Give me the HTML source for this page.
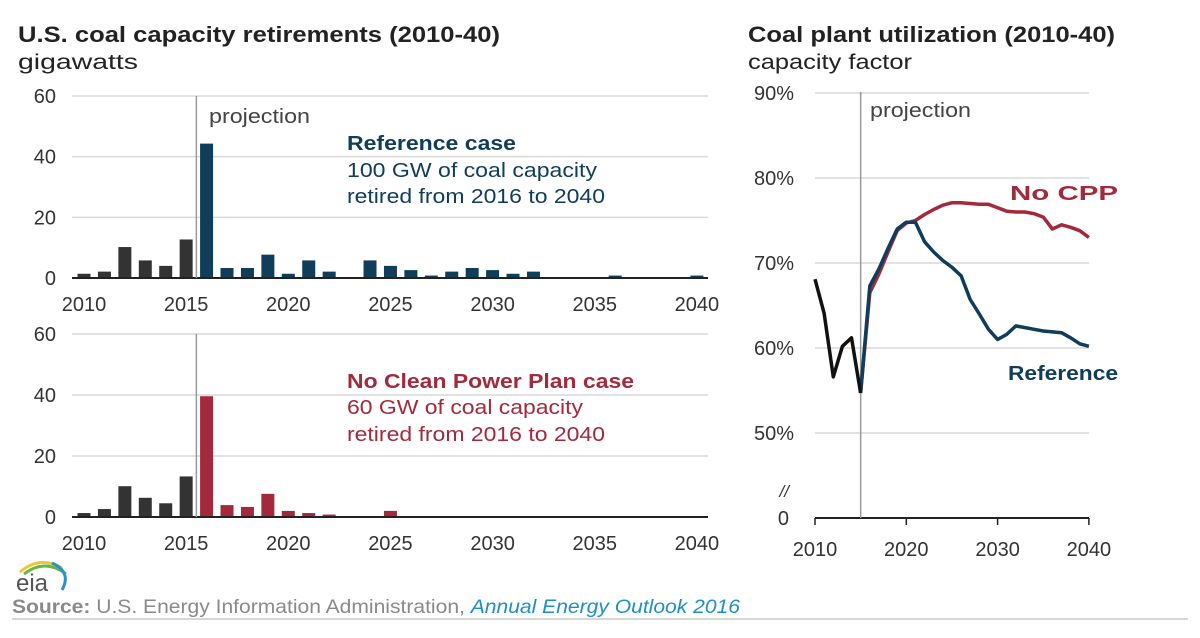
<!DOCTYPE html>
<html><head><meta charset="utf-8"><style>
body{margin:0;background:#fff;width:1200px;height:633px;overflow:hidden;font-family:"Liberation Sans",sans-serif}
svg text{font-family:"Liberation Sans",sans-serif}
</style></head><body>
<svg id="c" width="1200" height="633" xmlns="http://www.w3.org/2000/svg">
<text x="18" y="42" font-size="22" font-weight="bold" fill="#222" textLength="482" lengthAdjust="spacingAndGlyphs">U.S. coal capacity retirements (2010-40)</text>
<text x="18" y="69" font-size="21" fill="#222" textLength="120" lengthAdjust="spacingAndGlyphs">gigawatts</text>
<text x="748" y="42" font-size="22" font-weight="bold" fill="#222" textLength="367" lengthAdjust="spacingAndGlyphs">Coal plant utilization (2010-40)</text>
<text x="748" y="69" font-size="21" fill="#222" textLength="164" lengthAdjust="spacingAndGlyphs">capacity factor</text>
<g id="top"></g>
<g id="bot"></g>
<g id="line"></g>
<text x="209" y="123" font-size="20" fill="#444" textLength="101" lengthAdjust="spacingAndGlyphs">projection</text>
<text x="347" y="150" font-size="20" font-weight="bold" fill="#0f3d5a" textLength="169" lengthAdjust="spacingAndGlyphs">Reference case</text>
<text x="347" y="177" font-size="20" fill="#0f3d5a" textLength="250" lengthAdjust="spacingAndGlyphs">100 GW of coal capacity</text>
<text x="347" y="203" font-size="20" fill="#0f3d5a" textLength="258" lengthAdjust="spacingAndGlyphs">retired from 2016 to 2040</text>
<text x="347" y="388" font-size="20" font-weight="bold" fill="#a32a3c" textLength="287" lengthAdjust="spacingAndGlyphs">No Clean Power Plan case</text>
<text x="347" y="414" font-size="20" fill="#a32a3c" textLength="236" lengthAdjust="spacingAndGlyphs">60 GW of coal capacity</text>
<text x="347" y="441" font-size="20" fill="#a32a3c" textLength="258" lengthAdjust="spacingAndGlyphs">retired from 2016 to 2040</text>
<text x="870" y="117" font-size="20" fill="#444" textLength="101" lengthAdjust="spacingAndGlyphs">projection</text>
<text x="1010" y="200" font-size="20" font-weight="bold" fill="#a32a3c" textLength="108" lengthAdjust="spacingAndGlyphs">No CPP</text>
<text x="1008" y="380" font-size="20" font-weight="bold" fill="#0f3d5a" textLength="110" lengthAdjust="spacingAndGlyphs">Reference</text>
<g>
<path d="M20 572 Q40 555 62 568" stroke="#e8c93a" stroke-width="3" fill="none"/>
<path d="M24 574 Q45 558 66 574" stroke="#6bb544" stroke-width="3" fill="none"/>
<path d="M52 563 Q72 572 62 590" stroke="#2a8fd0" stroke-width="3" fill="none"/>
<text x="16" y="591" font-family="Liberation Serif,serif" font-size="24" fill="#555">eia</text>
</g>
<text x="12" y="613" font-size="19" fill="#8a8a8a" textLength="728" lengthAdjust="spacingAndGlyphs"><tspan font-weight="bold">Source:</tspan> U.S. Energy Information Administration, <tspan font-style="italic" fill="#1e8fc6">Annual Energy Outlook 2016</tspan></text>
<line x1="12" y1="619" x2="1188" y2="619" stroke="#ccc" stroke-width="1.5"/>
</svg>
<script>
const years = [];
for (let y = 2010; y <= 2040; y++) years.push(y);
const refRetire = [1.4,2.1,10.2,5.8,4,12.7,44.3,3.3,3.3,7.7,1.4,5.8,2.1,0,5.8,4,2.6,0.8,2.1,3.3,2.6,1.4,2.1,0,0,0,0.8,0,0,0,0.8];
const noCppRetire = [1.3,2.6,10.1,6.3,4.5,13.3,39.6,3.9,3.3,7.6,2,1.3,0.8,0,0,2,0,0,0,0,0,0,0,0,0,0,0,0,0,0,0];
const barTicks = [0,20,40,60];
const xTickYears = [2010,2015,2020,2025,2030,2035,2040];
const histYears = [2010,2011,2012,2013,2014,2015];
const histCF = [68.1,64.1,56.6,60.2,61.2,54.7];
const projYears = [2015,2016,2017,2018,2019,2020,2021,2022,2023,2024,2025,2026,2027,2028,2029,2030,2031,2032,2033,2034,2035,2036,2037,2038,2039,2040];
const refCF = [54.7,67.3,69.3,71.7,74,74.8,74.8,72.5,71.3,70.3,69.5,68.5,65.7,64,62.2,61,61.6,62.6,62.4,62.2,62,61.9,61.8,61.2,60.5,60.2];
const noCppCF = [54.7,66.5,68.7,71.3,73.8,74.7,75,75.7,76.3,76.8,77.1,77.1,77,76.9,76.9,76.5,76.1,76,76,75.8,75.4,74,74.5,74.2,73.8,73];
const cfTicks = [50,60,70,80,90];
const lineXTicks = [2010,2020,2030,2040];

const NS = "http://www.w3.org/2000/svg";
function mk(tag, attrs, parent){const e=document.createElementNS(NS,tag);for(const k in attrs)e.setAttribute(k,attrs[k]);parent.appendChild(e);return e;}

function barChart(g, vals, base, top60, colorProj, projTop){
  const xS = yr => 84 + (yr-2010)*20.43;
  const yS = v => base - v*(base-top60)/60;
  barTicks.forEach(t=>{
    if(t>0){const l=mk('line',{x1:72,x2:708,y1:yS(t),y2:yS(t),stroke:'#d9d9d9','stroke-width':1.5},g);
    
    }
    const tx=mk('text',{x:56,y:yS(t)+7,'font-size':20,fill:'#333','text-anchor':'end'},g);tx.textContent=t;
    
    
  });
  years.forEach((yr,i)=>{
    const v=vals[i]; if(v<=0) return;
    const r=mk('rect',{x:xS(yr)-6.5,y:yS(v),width:13,height:base-yS(v),fill:yr<=2015?'#333333':colorProj},g);
    
    
  });
  const ax=mk('line',{x1:72,x2:708,y1:base,y2:base,stroke:'#222','stroke-width':2},g);
  
  
  const pl=mk('line',{x1:xS(2015.5),x2:xS(2015.5),y1:projTop,y2:base,stroke:'#999','stroke-width':1.5},g);
  
  
  xTickYears.forEach(yr=>{
    const tx=mk('text',{x:xS(yr),y:base+33,'font-size':20,fill:'#333','text-anchor':'middle'},g);tx.textContent=yr;
    
    
  });
}
barChart(document.getElementById('top'), refRetire, 278, 96, '#0f3d5a', 96);
barChart(document.getElementById('bot'), noCppRetire, 517, 334, '#a32a3c', 334);

(function(){
  const g=document.getElementById('line');
  const xS=yr=>815+(yr-2010)*9.13;
  const yS=v=>518-(v-40)*8.5;
  cfTicks.forEach(t=>{
    const l=mk('line',{x1:815,x2:1089,y1:yS(t),y2:yS(t),stroke:'#d9d9d9','stroke-width':1.5},g);
    
    
    const tx=mk('text',{x:794,y:yS(t)+7,'font-size':20,fill:'#333','text-anchor':'end'},g);tx.textContent=t+'%';
    
    
  });
  const z=mk('text',{x:789,y:525,'font-size':20,fill:'#333','text-anchor':'end'},g);z.textContent='0';
  
  
  const br=mk('text',{x:789,y:497,'font-size':17,'font-style':'italic',fill:'#333','text-anchor':'end'},g);br.textContent='//';
  
  
  const ax=mk('line',{x1:815,x2:1089,y1:518,y2:518,stroke:'#222','stroke-width':2},g);
  
  
  const pl=mk('line',{x1:xS(2015),x2:xS(2015),y1:92,y2:518,stroke:'#999','stroke-width':1.5},g);
  
  
  lineXTicks.forEach(yr=>{
    const tk=mk('line',{x1:xS(yr),x2:xS(yr),y1:518,y2:525,stroke:'#222','stroke-width':1.5},g);
    
    
    const tx=mk('text',{x:xS(yr),y:556,'font-size':20,fill:'#333','text-anchor':'middle'},g);tx.textContent=yr;
    
    
  });
  function path(xs,ys,col,name){
    const d=xs.map((x,i)=>(i?'L':'M')+xS(x).toFixed(1)+' '+yS(ys[i]).toFixed(1)).join(' ');
    const p=mk('path',{d:d,stroke:col,'stroke-width':3.5,fill:'none','stroke-linejoin':'round'},g);
    
    
  }
  path(projYears,noCppCF,'#a32a3c','nocpp-line');
  path(projYears,refCF,'#0f3d5a','reference-line');
  path(histYears,histCF,'#111','history-line');
})();
</script>
</body></html>
